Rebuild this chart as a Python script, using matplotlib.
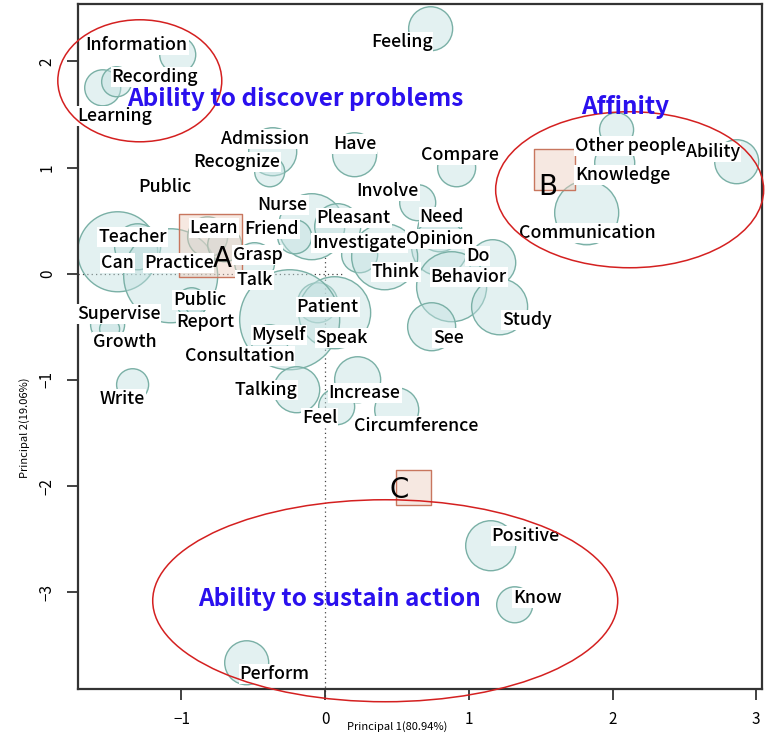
import matplotlib
matplotlib.use("Agg")
import matplotlib.pyplot as plt
from matplotlib.patches import Ellipse
import numpy as np

plt.rcParams['font.family'] = ['Noto Sans CJK JP', 'DejaVu Sans']

# ---------------- data ----------------
words = ["Feeling", "Information", "Learning", "Recording", "Admission", "Recognize",
         "Have", "Compare", "Involve", "Nurse", "Friend", "Pleasant", "Investigate",
         "Need", "Opinion", "Do", "Behavior", "Think", "Study", "See", "Teacher",
         "Can", "Practice", "Learn", "Grasp", "Talk", "Public", "Public", "Report",
         "Supervise", "Growth", "Patient", "Speak", "Myself", "Consultation", "Write",
         "Talking", "Increase", "Feel", "Circumference", "Other people", "Knowledge",
         "Ability", "Communication", "Positive", "Know", "Perform"]
# bubble centres (principal 1, principal 2)
bx = [0.734, -1.026, -1.548, -1.451, -0.365, -0.386,
      0.205, 0.915, 0.644, -0.094, -0.212, 0.087, 0.240,
      0.797, 0.797, 1.166, 0.880, 0.414, 1.214, 0.741, -1.444,
      -1.305, -1.075, -0.818, -0.491, -0.699, -1.113, -0.929, -0.900,
      -1.514, -1.500, -0.052, 0.066, -0.247, -0.386, -1.340,
      -0.198, 0.226, 0.080, 0.498, 2.028, 2.015,
      2.864, 1.820, 1.152, 1.319, -0.546]
by = [2.307, 2.062, 1.751, 1.808, 1.149, 0.960,
      1.121, 0.998, 0.669, 0.443, 0.348, 0.443, 0.179,
      0.414, 0.245, 0.104, -0.122, 0.160, -0.311, -0.499, 0.207,
      0.254, -0.019, 0.348, 0.104, 0.273, 0.819, -0.273, -0.300,
      -0.480, -0.520, -0.273, -0.367, -0.433, -0.650, -1.045,
      -1.092, -0.998, -1.252, -1.281, 1.356, 1.045,
      1.055, 0.574, -2.561, -3.117, -3.663]
# bubble radius (relative frequency)
freq = [22, 18, 18, 15, 24, 15,
        22, 19, 18, 33, 17, 23, 18,
        22, 28, 23, 35, 33, 28, 24, 40,
        23, 47, 20, 20, 17, 0, 15, 10,
        17, 10, 20, 36, 50, 18, 16,
        23, 23, 18, 22, 17, 20,
        22, 32, 25, 18, 22]
# label positions
lx = [0.532, -1.312, -1.465, -1.186, -0.421, -0.616,
      0.205, 0.936, 0.435, -0.296, -0.372, 0.198, 0.240,
      0.811, 0.797, 1.061, 0.999, 0.491, 1.402, 0.859, -1.340,
      -1.444, -1.019, -0.776, -0.470, -0.491, -1.113, -0.873, -0.832,
      -1.437, -1.395, 0.017, 0.115, -0.324, -0.595, -1.409,
      -0.414, 0.275, -0.038, 0.630, 2.125, 2.070,
      2.697, 1.827, 1.395, 1.479, -0.351]
ly = [2.185, 2.156, 1.488, 1.855, 1.271, 1.055,
      1.224, 1.121, 0.782, 0.650, 0.424, 0.527, 0.292,
      0.537, 0.330, 0.169, -0.028, 0.019, -0.433, -0.603, 0.348,
      0.104, 0.104, 0.433, 0.179, -0.056, 0.819, -0.245, -0.452,
      -0.377, -0.640, -0.311, -0.603, -0.574, -0.772, -1.177,
      -1.092, -1.121, -1.356, -1.431, 1.205, 0.932,
      1.149, 0.386, -2.467, -3.051, -3.766]

groups = ["A", "B", "C"]
gx = [-0.797, 1.597, 0.616]
gy = [0.264, 0.979, -2.015]
gsize = [63, 41, 35]
glx = [-0.713, 1.548, 0.518]
gly = [0.141, 0.819, -2.034]

clusters = ["Ability to discover problems", "Affinity", "Ability to sustain action"]
cx = [-1.29, 2.119, 0.418]
cy = [1.817, 0.791, -3.079]
cw = [1.141, 1.865, 3.236]
ch = [1.149, 1.469, 1.902]
ctx = [-0.210, 2.090, 0.101]
cty = [1.646, 1.573, -3.060]

xticks = [-1, 0, 1, 2, 3]
yticks = [-3, -2, -1, 0, 1, 2]

# ---------------- figure ----------------
W, H, DPI = 767, 735, 100
fig = plt.figure(figsize=(W / DPI, H / DPI), dpi=DPI)
ax = fig.add_axes([78 / W, 46 / H, (762 - 78) / W, (689 - 4) / H])
ax.set_xlim(-1.72, 3.04)
ax.set_ylim(-3.91, 2.54)

# dotted reference lines (partial, as in source)
ax.plot([-1.72, 0.12], [0, 0], ls=(0, (1, 2.5)), color="#444444", lw=0.9, zorder=1)
ax.plot([0, 0], [-3.98, 0.17], ls=(0, (1, 2.5)), color="#444444", lw=0.9, zorder=1,
        clip_on=False)

r = np.array(freq, dtype=float)
sizes = (2 * r * 72 / DPI) ** 2
ax.scatter(bx, by, s=sizes, facecolor=(0.76, 0.88, 0.88, 0.45),
           edgecolor="#7ab0a6", linewidth=1.0, zorder=2)

# group squares
gs = (np.array(gsize) * 72 / DPI) ** 2
ax.scatter(gx, gy, s=gs, marker="s", facecolor=(0.93, 0.80, 0.74, 0.45),
           edgecolor="#c8765e", linewidth=1.0, zorder=3)

for w, x, y in zip(words, lx, ly):
    ax.text(x, y, w, ha="center", va="center", fontsize=12.8, fontweight="medium",
            color="black", zorder=5,
            bbox=dict(boxstyle="square,pad=0.05", facecolor="white", edgecolor="none"))

for g, x, y in zip(groups, glx, gly):
    ax.text(x, y, g, ha="center", va="center", fontsize=20, color="black", zorder=6,
            family=["DejaVu Sans"])

for x, y, w, h in zip(cx, cy, cw, ch):
    ax.add_patch(Ellipse((x, y), w, h, facecolor="none", edgecolor="#d42020",
                         linewidth=1.1, zorder=7, clip_on=False))

for t, x, y in zip(clusters, ctx, cty):
    ax.text(x, y, t, ha="center", va="center", fontsize=17.5, fontweight="bold",
            color="#2a10ee", zorder=8)

ax.set_xticks(xticks)
ax.set_yticks(yticks)
ax.set_xticklabels(["\u22121" if v == -1 else str(v) for v in xticks], fontsize=11)
ax.set_yticklabels([("\u2212" + str(-v)) if v < 0 else str(v) for v in yticks],
                   fontsize=11, rotation=90, va="center")
ax.tick_params(direction="out", length=8, width=1.3, color="#333333", pad=8)
for s in ax.spines.values():
    s.set_color("#333333")
    s.set_linewidth(1.6)

fig.text(397 / W, 1 - 727 / H, "Principal 1(80.94%)", ha="center", va="center", fontsize=8)
fig.text(25 / W, 1 - 428 / H, "Principal 2(19.06%)", ha="center", va="center",
         fontsize=8, rotation=90)

fig.savefig("out.png", dpi=DPI)
